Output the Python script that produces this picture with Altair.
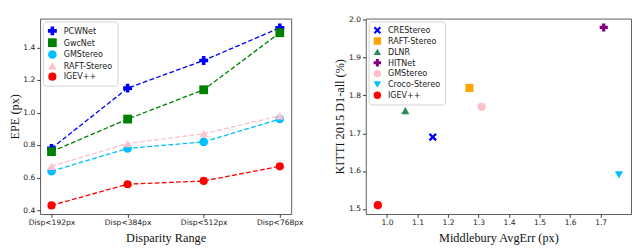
import altair as alt
import pandas as pd

# ---- left panel data ----
ranges = ["Disp<192px", "Disp<384px", "Disp<512px", "Disp<768px"]
methods_left = ["PCWNet", "GwcNet", "GMStereo", "RAFT-Stereo", "IGEV++"]
pcwnet = [0.78, 1.15, 1.32, 1.52]
gwcnet = [0.76, 0.96, 1.14, 1.49]
gmstereo_epe = [0.64, 0.78, 0.82, 0.96]
raft_epe = [0.67, 0.81, 0.87, 0.98]
igev_epe = [0.43, 0.56, 0.58, 0.67]
left_colors = ["#0000ff", "#008000", "#00bfff", "#ffc0cb", "#ff0000"]
left_shapes = ["cross", "square", "circle", "triangle-up", "circle"]
left_sizes = [90, 75, 55, 70, 100]
y_ticks_left = [0.4, 0.6, 0.8, 1.0, 1.2, 1.4]

# ---- right panel data ----
methods_right = ["CREStereo", "RAFT-Stereo", "DLNR", "HITNet", "GMStereo", "Croco-Stereo", "IGEV++"]
middlebury = [1.15, 1.27, 1.06, 1.71, 1.31, 1.76, 0.97]
kitti = [1.69, 1.82, 1.76, 1.98, 1.77, 1.59, 1.51]
right_colors = ["#0000ff", "#ffa500", "#2e8b57", "#800080", "#ffc0cb", "#00bfff", "#ff0000"]
x_shape = "M-1,-0.6L-0.6,-1L0,-0.4L0.6,-1L1,-0.6L0.4,0L1,0.6L0.6,1L0,0.4L-0.6,1L-1,0.6L-0.4,0Z"
right_shapes = [x_shape, "square", "triangle-up", "cross", "circle", "triangle-down", "circle"]
x_ticks_right = [1.0, 1.1, 1.2, 1.3, 1.4, 1.5, 1.6, 1.7]
y_ticks_right = [1.5, 1.6, 1.7, 1.8, 1.9, 2.0]

series = [pcwnet, gwcnet, gmstereo_epe, raft_epe, igev_epe]
rows = []
for m, vals in zip(methods_left, series):
    for r, v in zip(ranges, vals):
        rows.append({"method": m, "range": r, "epe": v})
left_df = pd.DataFrame(rows)
right_df = pd.DataFrame({"method": methods_right, "mb": middlebury, "kitti": kitti})

TICK_FONT = "DejaVu Sans"
TITLE_FONT = "Liberation Serif"

def legend_def():
    return alt.Legend(title=None, orient="top-left", offset=3, padding=5,
                      strokeColor="#d0d0d0", fillColor="white", cornerRadius=3,
                      labelFont=TICK_FONT, labelFontSize=8.5, labelColor="#222",
                      symbolSize=62, rowPadding=2.5, labelOffset=7,
                      symbolStrokeWidth=0)

def axis(values=None, title=None, fmt=None, labelAngle=None, titlePadding=4):
    kw = dict(grid=False, domain=False, tickSize=3.5, tickColor="#333",
              labelFont=TICK_FONT, labelFontSize=8, labelColor="#222",
              titleFont=TITLE_FONT, titleFontSize=13, titleFontWeight="normal",
              titleColor="#111", title=title, titlePadding=titlePadding)
    if values is not None:
        kw["values"] = values
    if fmt is not None:
        kw["format"] = fmt
    if labelAngle is not None:
        kw["labelAngle"] = labelAngle
    return alt.Axis(**kw)

W_L, W_R, H = 266, 281, 207

x_left = alt.X("range:N", sort=ranges, scale=alt.Scale(type="point", padding=0.15),
               axis=axis(title="Disparity Range", labelAngle=0, titlePadding=6))
y_left = alt.Y("epe:Q", scale=alt.Scale(domain=[0.377, 1.577], nice=False, zero=False),
               axis=axis(values=y_ticks_left, title="EPE (px)", fmt=".1f", titlePadding=2))
color_scale_left = alt.Scale(domain=methods_left, range=left_colors)

lines = alt.Chart(left_df).mark_line(strokeDash=[5, 2.5], strokeWidth=1.4).encode(
    x=x_left, y=y_left, color=alt.Color("method:N", scale=color_scale_left, legend=legend_def()))
pts = alt.Chart(left_df).mark_point(filled=True, opacity=1).encode(
    x=x_left, y=y_left,
    color=alt.Color("method:N", scale=color_scale_left, legend=legend_def()),
    shape=alt.Shape("method:N", scale=alt.Scale(domain=methods_left, range=left_shapes), legend=legend_def()),
    size=alt.Size("method:O", scale=alt.Scale(domain=methods_left, range=left_sizes), legend=None))
left = alt.layer(lines, pts).properties(width=W_L, height=H)

x_right = alt.X("mb:Q", scale=alt.Scale(domain=[0.9305, 1.7995], nice=False, zero=False),
                axis=axis(values=x_ticks_right, title="Middlebury AvgErr (px)", fmt=".1f", titlePadding=6))
y_right = alt.Y("kitti:Q", scale=alt.Scale(domain=[1.4865, 2.0035], nice=False, zero=False),
                axis=axis(values=y_ticks_right, title="KITTI 2015 D1-all (%)", fmt=".1f", titlePadding=2))
right = alt.Chart(right_df).mark_point(filled=True, opacity=1, size=75).encode(
    x=x_right, y=y_right,
    color=alt.Color("method:N", scale=alt.Scale(domain=methods_right, range=right_colors), legend=legend_def()),
    shape=alt.Shape("method:N", scale=alt.Scale(domain=methods_right, range=right_shapes), legend=legend_def()),
).properties(width=W_R, height=H)

chart = alt.hconcat(left, right, spacing=31).resolve_scale(
    color="independent", shape="independent", size="independent"
).resolve_legend(color="independent", shape="independent").properties(padding=0).configure_view(
    stroke="#555", strokeWidth=1)

chart.save("out.html", embed_options={"renderer": "svg", "actions": False})
